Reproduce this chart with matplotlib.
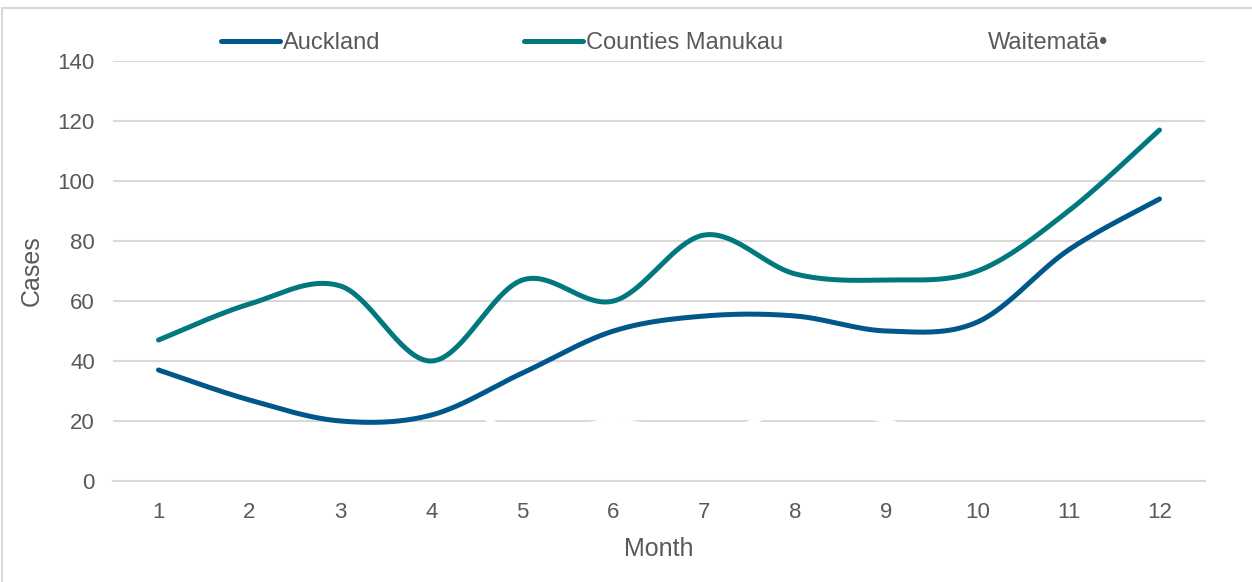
import numpy as np
import matplotlib
matplotlib.use("Agg")
import matplotlib.pyplot as plt
from matplotlib.patches import Rectangle

plt.rcParams['font.family'] = ['Liberation Sans', 'DejaVu Sans']

months = list(range(1, 13))
auckland = [37, 27, 20, 22, 36, 50, 55, 55, 50, 53, 77, 94]
counties = [47, 59, 65, 40, 67, 60, 82, 69, 67, 70, 90, 117]
waitemata = [30, 32, 33, 32, 15, 20, 15, 24, 20, 8, 10, 10]

text_col = '#595959'
grid_col = '#D9D9D9'


def smooth(x, y, n=40):
  # catmull-rom style bezier, like the spreadsheet "smoothed line"
  x = np.asarray(x, float)
  y = np.asarray(y, float)
  px = np.concatenate([[x[0]], x, [x[-1]]])
  py = np.concatenate([[y[0]], y, [y[-1]]])
  xs, ys = [], []
  t = np.linspace(0, 1, n)
  for i in range(len(x) - 1):
    p0 = np.array([px[i], py[i]])
    p1 = np.array([px[i + 1], py[i + 1]])
    p2 = np.array([px[i + 2], py[i + 2]])
    p3 = np.array([px[i + 3], py[i + 3]])
    c1 = p1 + (p2 - p0) / 6
    c2 = p2 - (p3 - p1) / 6
    b = ((1 - t) ** 3)[:, None] * p1 + (3 * (1 - t) ** 2 * t)[:, None] * c1 \
        + (3 * (1 - t) * t ** 2)[:, None] * c2 + (t ** 3)[:, None] * p2
    xs.append(b[:, 0])
    ys.append(b[:, 1])
  return np.concatenate(xs), np.concatenate(ys)


fig = plt.figure(figsize=(12.52, 5.82), dpi=100)
ax = fig.add_axes([113 / 1252, 101 / 582, 1092 / 1252, 420 / 582])

# outer chart border
fig.patches.append(Rectangle((2 / 1252, -0.1), 1.2, (582 - 8) / 582 + 0.1,
                             transform=fig.transFigure, fill=False,
                             edgecolor=grid_col, linewidth=1.5))

sx, sy = smooth(months, waitemata)
ax.plot(sx, sy, color='white', lw=3.6, solid_capstyle='round', zorder=2,
        label='Waitematā•')
sx, sy = smooth(months, auckland)
ax.plot(sx, sy, color='#00578A', lw=3.6, solid_capstyle='round', zorder=3,
        label='Auckland')
sx, sy = smooth(months, counties)
ax.plot(sx, sy, color='#00787E', lw=3.6, solid_capstyle='round', zorder=3,
        label='Counties Manukau')

ax.set_xlim(0.5, 12.5)
ax.set_ylim(0, 140)
ax.set_xticks(months)
ax.set_yticks(range(0, 141, 20))
ax.grid(axis='y', color=grid_col, lw=1.5, zorder=1)
ax.set_axisbelow(True)
for s in ['top', 'right', 'left']:
  ax.spines[s].set_visible(False)
ax.spines['bottom'].set_color(grid_col)
ax.spines['bottom'].set_linewidth(1.5)
ax.tick_params(length=0, labelsize=16, labelcolor=text_col)
ax.tick_params(axis='x', pad=15)
ax.tick_params(axis='y', pad=13)
ax.set_xlabel('Month', fontsize=18, color=text_col, labelpad=10)
ax.set_ylabel('Cases', fontsize=18, color=text_col, labelpad=10)

handles, labels = ax.get_legend_handles_labels()
order = [1, 2, 0]
leg = fig.legend([handles[i] for i in order], [labels[i] for i in order],
                 loc='center', bbox_to_anchor=(0.531, (582 - 43) / 582),
                 ncol=3, frameon=False, fontsize=17, handlelength=2.5,
                 handletextpad=0.1, columnspacing=6.1)
for t in leg.get_texts():
  t.set_color(text_col)

fig.savefig('out.png', dpi=100)
